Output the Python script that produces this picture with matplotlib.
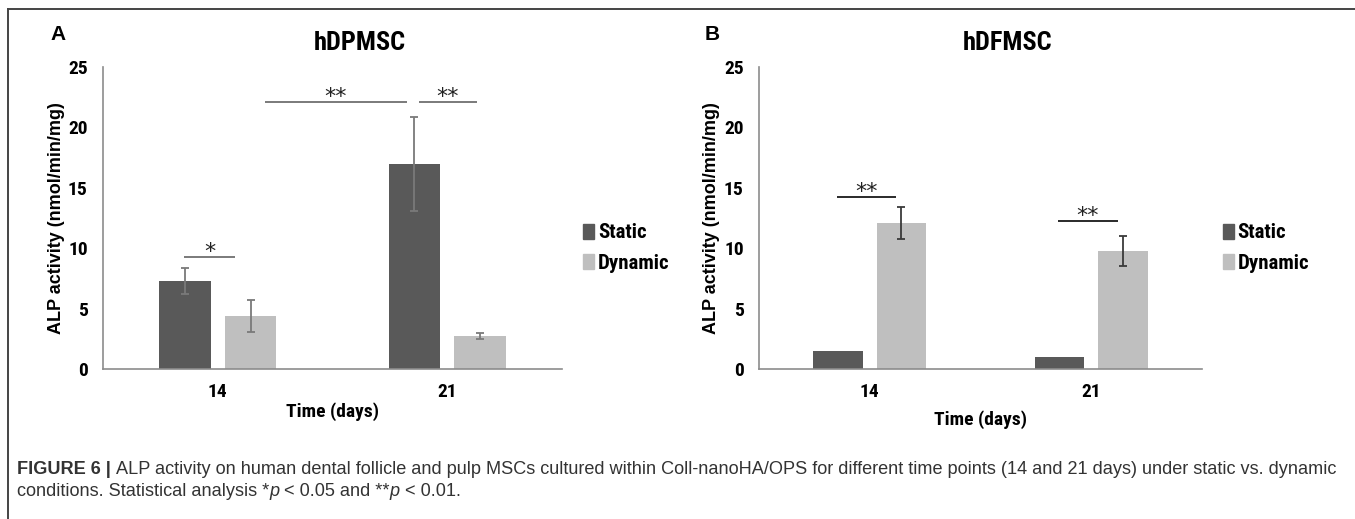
import matplotlib
matplotlib.use("Agg")
import matplotlib.pyplot as plt
from matplotlib import font_manager
from matplotlib.lines import Line2D
from matplotlib.patches import Patch
import numpy as np

# ---------------- data ----------------
days = ["14", "21"]
series = ["Static", "Dynamic"]
a_static = [7.3, 17.0]
a_static_err = [1.1, 3.9]
a_dynamic = [4.4, 2.7]
a_dynamic_err = [1.3, 0.25]
b_static = [1.5, 1.0]
b_static_err = [0.0, 0.0]
b_dynamic = [12.1, 9.8]
b_dynamic_err = [1.3, 1.25]
# significance brackets: (x_start, x_end, y, label) in category units
a_sig = [(-0.145, 0.075, 9.3, "*"), (0.205, 0.825, 22.1, "**"), (0.875, 1.13, 22.1, "**")]
b_sig = [(-0.15, 0.12, 14.25, "**"), (0.85, 1.12, 12.25, "**")]
caption_bold = "FIGURE 6 | "
caption_l1 = ("ALP activity on human dental follicle and pulp MSCs cultured within Coll-nanoHA/OPS "
              "for different time points (14 and 21 days) under static vs. dynamic")
caption_l2 = ["conditions. Statistical analysis *", "p", " < 0.05 and **", "p", " < 0.01."]

# ---------------- fonts ----------------
names = {f.name for f in font_manager.fontManager.ttflist}
NARROW = "Liberation Sans"
for cand in ["Liberation Sans Narrow", "Roboto Condensed", "PT Sans Narrow", "Archivo Narrow",
             "Pragati Narrow", "Barlow Semi Condensed"]:
    if cand in names:
        NARROW = cand
        break
SANS = "Liberation Sans"
plt.rcParams["font.family"] = [SANS, "DejaVu Sans"]

C_STATIC = "#595959"
C_DYN = "#bfbfbf"
AX_COL = "#8c8c8c"

W, H = 1355, 519
fig = plt.figure(figsize=(W / 100, H / 100), dpi=100)

def px_axes(x0, x1, y_top, y_bot):
    return fig.add_axes([x0 / W, 1 - y_bot / H, (x1 - x0) / W, (y_bot - y_top) / H])

def draw_panel(ax, st, st_err, dy, dy_err, sig, title, errcol, sigcol, xlabel_pad, ylab_x):
    x = np.arange(len(days))
    off, bw = 0.143, 0.225
    ax.bar(x - off, st, bw, color=C_STATIC, zorder=2)
    ax.bar(x + off, dy, bw, color=C_DYN, zorder=2)
    for xs, v, e in zip(x - off, st, st_err):
        if e > 0:
            ax.errorbar(xs, v, yerr=e, fmt="none", ecolor=errcol, elinewidth=1.3,
                        capsize=3.2, capthick=1.3, zorder=3)
    for xs, v, e in zip(x + off, dy, dy_err):
        if e > 0:
            ax.errorbar(xs, v, yerr=e, fmt="none", ecolor=errcol, elinewidth=1.3,
                        capsize=3.2, capthick=1.3, zorder=3)
    for x0, x1, y, lab in sig:
        ax.plot([x0, x1], [y, y], color=sigcol, lw=1.4, zorder=3, solid_capstyle="butt")
        ax.text((x0 + x1) / 2, y - 0.45, lab, ha="center", va="bottom", fontsize=16,
                family="DejaVu Sans", color="#222222")
    ax.set_xlim(-0.5, 1.5)
    ax.set_ylim(0, 25)
    ax.set_yticks([0, 5, 10, 15, 20, 25])
    ax.set_xticks(x)
    ax.set_xticklabels(days)
    for s in ["top", "right"]:
        ax.spines[s].set_visible(False)
    for s in ["left", "bottom"]:
        ax.spines[s].set_color(AX_COL)
        ax.spines[s].set_linewidth(1.2)
    ax.tick_params(length=0, pad=11)
    ax.tick_params(axis="x", pad=10)
    for lab in ax.get_xticklabels() + ax.get_yticklabels():
        lab.set_fontfamily(NARROW)
        lab.set_fontweight("bold")
        lab.set_fontsize(14)
    ax.set_ylabel("ALP activity (nmol/min/mg)", fontsize=13, fontweight="bold", family=SANS)
    ax.yaxis.set_label_coords(ylab_x, 0.5)
    ax.set_xlabel("Time (days)", fontsize=14, fontweight="bold", family=NARROW,
                  labelpad=xlabel_pad)
    ax.set_title(title, fontsize=19, fontweight="bold", family=NARROW, pad=12, x=0.56)
    handles = [Patch(color=C_STATIC, label=series[0]), Patch(color=C_DYN, label=series[1])]
    ax.legend(handles=handles, loc="center left", bbox_to_anchor=(1.01, 0.40), frameon=False,
              prop={"family": NARROW, "weight": "bold", "size": 15},
              handlelength=0.5, handleheight=0.75, handletextpad=0.2, labelspacing=0.55,
              borderaxespad=0.4)

axA = px_axes(103, 562, 67, 369)
draw_panel(axA, a_static, a_static_err, a_dynamic, a_dynamic_err, a_sig, "hDPMSC",
           "#7a7a7a", "#7a7a7a", 1, -0.082)
axB = px_axes(759, 1202, 67, 369)
draw_panel(axB, b_static, b_static_err, b_dynamic, b_dynamic_err, b_sig, "hDFMSC",
           "#3a3a3a", "#2a2a2a", 7, -0.088)

# panel letters
fig.text(58 / W, 1 - 35 / H, "A", fontsize=15, fontweight="bold", family=SANS, ha="center", va="center")
fig.text(712 / W, 1 - 35 / H, "B", fontsize=15, fontweight="bold", family=SANS, ha="center", va="center")

# border (top and left)
fig.add_artist(Line2D([8 / W, 1.0], [1 - 9 / H, 1 - 9 / H], transform=fig.transFigure,
                      color="#444444", lw=1.4))
fig.add_artist(Line2D([8 / W, 8 / W], [1 - 9 / H, 0], transform=fig.transFigure,
                      color="#444444", lw=1.4))

# caption with mixed styles
renderer = fig.canvas.get_renderer()
def seq_text(x_px, y_px, parts, size):
    x = x_px
    for txt, weight, style in parts:
        t = fig.text(x / W, 1 - y_px / H, txt, fontsize=size, fontweight=weight, fontstyle=style,
                     family=SANS, color="#333333", ha="left", va="baseline")
        bb = t.get_window_extent(renderer=renderer)
        x += bb.width
    return x

# fit first caption line to the width it occupies in the reference
probe = fig.text(0, 0, caption_bold + caption_l1, fontsize=10, family=SANS)
pw = probe.get_window_extent(renderer=renderer).width
probe.remove()
cap_size = min(13.5, 10 * (1337 - 17) / pw)

seq_text(17, 474, [(caption_bold, "bold", "normal"), (caption_l1, "normal", "normal")], cap_size)
seq_text(17, 496, [(caption_l2[0], "normal", "normal"), (caption_l2[1], "normal", "italic"),
                   (caption_l2[2], "normal", "normal"), (caption_l2[3], "normal", "italic"),
                   (caption_l2[4], "normal", "normal")], cap_size)

fig.savefig("out.png", dpi=100)
